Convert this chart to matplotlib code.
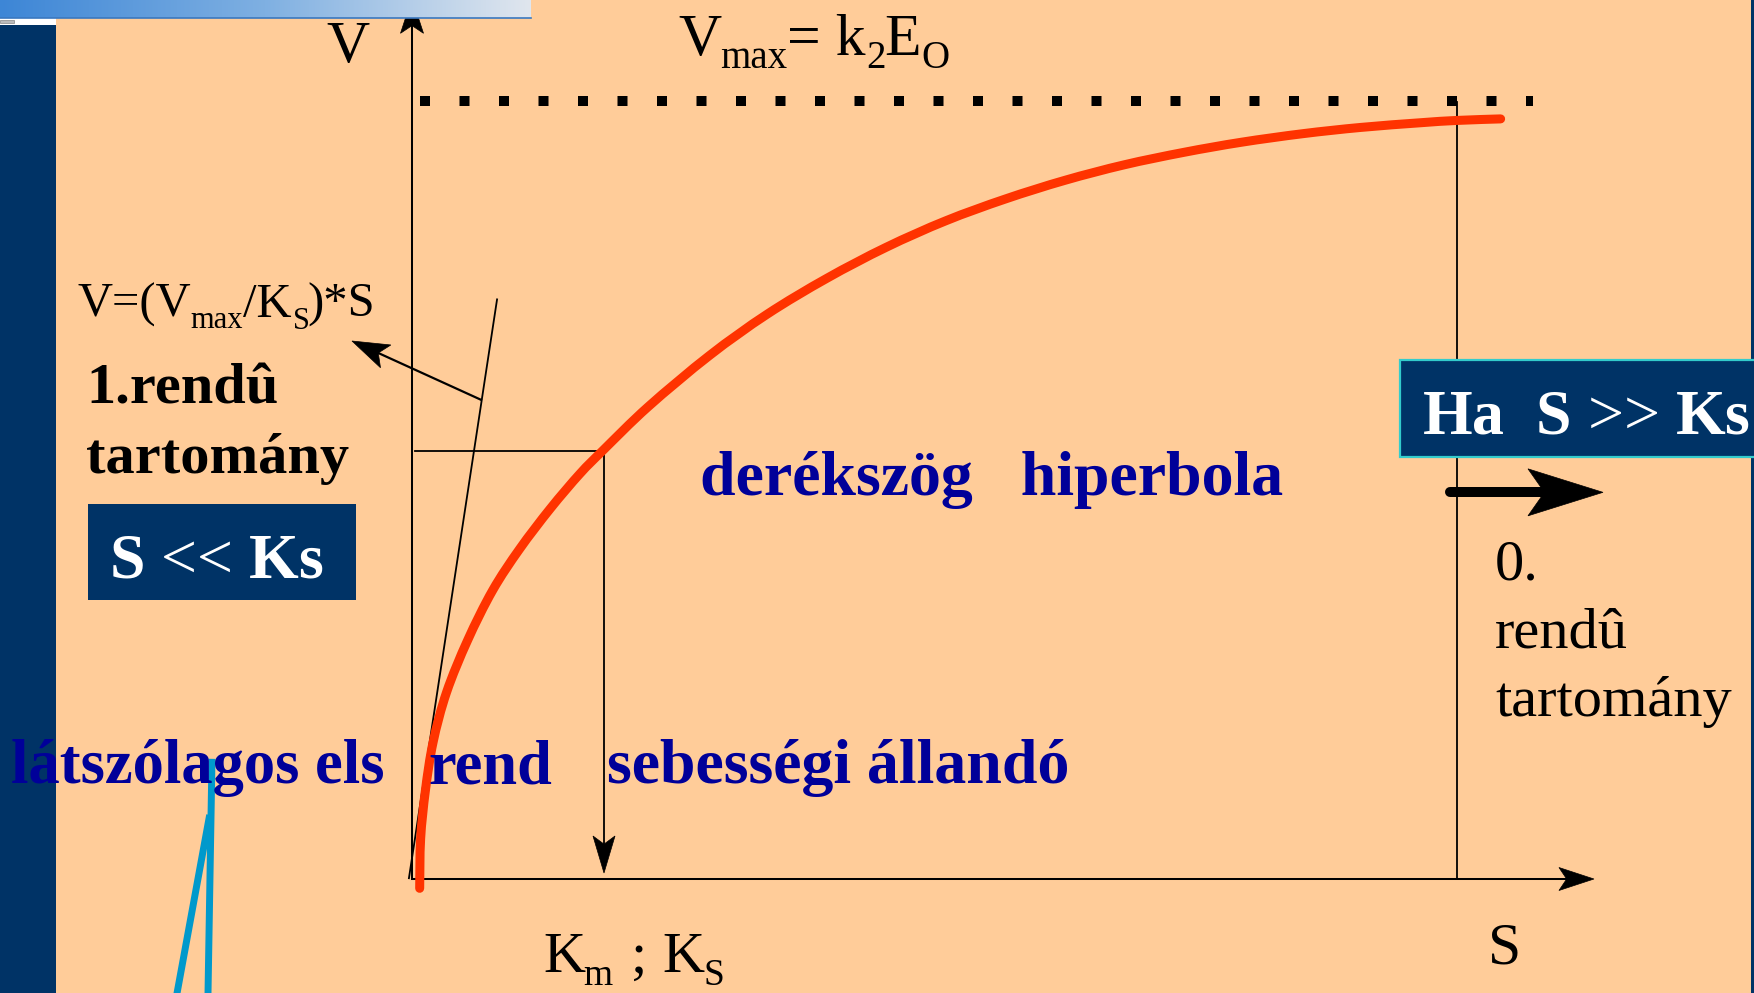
import numpy as np
import matplotlib
matplotlib.use('Agg')
import matplotlib.pyplot as plt
from matplotlib.patches import Rectangle, Polygon, PathPatch
from matplotlib.path import Path
from matplotlib.colors import LinearSegmentedColormap

plt.rcParams['font.family'] = ['Liberation Serif', 'DejaVu Serif']
plt.rcParams['mathtext.fontset'] = 'custom'
plt.rcParams['mathtext.rm'] = 'Liberation Serif'
plt.rcParams['mathtext.bf'] = 'Liberation Serif:bold'

W, H = 1754, 993
# pixel position of the origin, and pixels per Ks / per Vmax
X0, Y0 = 412, 879
SX = 192
VY = 778

PEACH = '#FFCC99'
NAVY = '#003366'
BLUE_TXT = '#000099'
RED = '#FF3300'
CYAN = '#0099CC'

# red curve (S in units of Ks, V in units of Vmax)
curve_s = [0.04, 0.045, 0.07, 0.11, 0.18, 0.29, 0.42, 0.56, 0.72, 0.875, 0.995,
           1.23, 1.55, 1.85, 2.16, 2.47, 2.78, 3.09, 3.40, 3.71, 4.02, 4.32,
           4.64, 4.94, 5.25, 5.44, 5.67]
curve_v = [-0.012, 0.052, 0.114, 0.176, 0.240, 0.307, 0.371, 0.424, 0.476, 0.521, 0.551,
           0.607, 0.673, 0.726, 0.772, 0.812, 0.846, 0.874, 0.898, 0.918, 0.934, 0.947,
           0.958, 0.966, 0.972, 0.975, 0.977]

vmax_s = [0.042, 5.84]          # dotted Vmax level
vmax_v = 1.0
km_s = 1.0                      # Km ; Ks
km_v = 0.550
right_s = 5.443                 # right vertical marker
tangent_s = [-0.016, 0.443]
tangent_v = [0.001, 0.745]
formula_arrow_s = [0.359, -0.3125]
formula_arrow_v = [0.616, 0.6915]
zero_arrow_s = [5.406, 6.203]
zero_arrow_v = 0.497
x_axis_end = 6.156
y_axis_end = 1.132
callout_a_s = [-1.042, -1.0625]
callout_a_v = [0.150, -0.147]
callout_b_s = [-1.057, -1.224]
callout_b_v = [0.078, -0.147]


def ds(px):
    return (px - X0) / SX


def dv(py):
    return (Y0 - py) / VY


fig = plt.figure(figsize=(W / 100, H / 100), dpi=100, facecolor=PEACH)
ax = fig.add_axes([0, 0, 1, 1])
ax.set_axis_off()
ax.set_xlim(ds(0), ds(W))
ax.set_ylim(dv(H), dv(0))


def arrow_head(tail, tip, length, width, notch=0.22, color='black', z=6):
    t = ax.transData
    p0 = np.array(t.transform(tail))
    p1 = np.array(t.transform(tip))
    d = (p1 - p0) / np.hypot(*(p1 - p0))
    n = np.array([-d[1], d[0]])
    base = p1 - d * length
    mid = p1 - d * length * (1 - notch)
    pts = np.array([p1, base + n * width / 2, mid, base - n * width / 2])
    pts = t.inverted().transform(pts)
    ax.add_patch(Polygon(pts, closed=True, facecolor=color, edgecolor=color,
                         lw=0.5, zorder=z))
    return t.inverted().transform(mid)


def px_text(x, y, s, size, **kw):
    fig.text(x / W, 1 - y / H, s, fontsize=size, va='baseline', ha=kw.pop('ha', 'left'), **kw)


def smooth_path(xs, ys):
    # draw the read points as one smooth stroke (Catmull-Rom as cubic Beziers)
    p = np.column_stack([xs, ys])
    ext = np.vstack([p[0], p, p[-1]])
    verts = [p[0]]
    codes = [Path.MOVETO]
    for i in range(1, len(ext) - 2):
        c1 = ext[i] + (ext[i + 1] - ext[i - 1]) / 6
        c2 = ext[i + 1] - (ext[i + 2] - ext[i]) / 6
        verts += [c1, c2, ext[i + 1]]
        codes += [Path.CURVE4] * 3
    return Path(verts, codes)


# side decorations
ax.add_patch(Rectangle((ds(0), dv(H)), ds(56) - ds(0), dv(25) - dv(H),
                       facecolor=NAVY, edgecolor='none', zorder=1))
ax.add_patch(Rectangle((ds(0), dv(25)), ds(56) - ds(0), dv(18) - dv(25),
                       facecolor='white', edgecolor='none', zorder=1))
ax.add_patch(Rectangle((ds(0), dv(23)), ds(14) - ds(0), dv(20) - dv(23),
                       facecolor='#bbbbbb', edgecolor='#888888', lw=0.5, zorder=2))
ax.add_patch(Rectangle((ds(1751), dv(H)), ds(W) - ds(1751), dv(0) - dv(H),
                       facecolor=NAVY, edgecolor='none', zorder=1))
band = LinearSegmentedColormap.from_list('band', ['#3d86d6', '#7fb0e2', '#e0e6ee'])
ax.imshow(np.linspace(0, 1, 256)[None, :], cmap=band, aspect='auto',
          extent=[ds(0), ds(531), dv(18), dv(0)], zorder=20)
ax.plot([ds(0), ds(531)], [dv(18), dv(18)], color='#3a78c0', lw=1.2, zorder=21)

# axes with arrows
lw_axis = 1.45
mid = arrow_head((0, 0), (x_axis_end, 0), 35, 23)
ax.plot([0, mid[0]], [0, 0], color='black', lw=lw_axis, zorder=5)
mid = arrow_head((0, 0), (0, y_axis_end), 35, 23)
ax.plot([0, 0], [0, mid[1]], color='black', lw=lw_axis, zorder=5)

# Vmax dotted level
ax.plot(vmax_s, [vmax_v, vmax_v], color='black', lw=7.2,
        linestyle=(0, (1, 2.95)), dash_capstyle='butt', zorder=5)

# right vertical marker
ax.plot([right_s, right_s], [0, vmax_v - 0.001], color='black', lw=1.3, zorder=5)

# tangent (first order) line
ax.plot(tangent_s, tangent_v, color='black', lw=1.3, zorder=5)

# arrow to the formula
mid = arrow_head((formula_arrow_s[0], formula_arrow_v[0]),
                 (formula_arrow_s[1], formula_arrow_v[1]), 37, 25)
ax.plot([formula_arrow_s[0], mid[0]], [formula_arrow_v[0], mid[1]],
        color='black', lw=1.6, zorder=5)

# Km guide lines
ax.plot([tangent_s[0] + 0.032, km_s], [km_v, km_v], color='black', lw=1.3, zorder=5)
mid = arrow_head((km_s, km_v), (km_s, dv(873)), 37, 22)
ax.plot([km_s, km_s], [km_v, mid[1]], color='black', lw=1.3, zorder=5)

# thick arrow (zero order)
mid = arrow_head((zero_arrow_s[0], zero_arrow_v), (zero_arrow_s[1], zero_arrow_v), 75, 47)
ax.plot([zero_arrow_s[0], mid[0]], [zero_arrow_v, zero_arrow_v], color='black',
        lw=7.2, solid_capstyle='round', zorder=6)

# hyperbola
curve = PathPatch(smooth_path(curve_s, curve_v), facecolor='none', edgecolor=RED,
                  lw=6.5, zorder=7)
curve.set_capstyle('round')
curve.set_joinstyle('round')
ax.add_patch(curve)

# boxes
ax.add_patch(Rectangle((ds(88), dv(600)), ds(356) - ds(88), dv(504) - dv(600),
                       facecolor=NAVY, edgecolor='none', zorder=8))
ax.add_patch(Rectangle((ds(1400), dv(457)), ds(1770) - ds(1400), dv(360) - dv(457),
                       facecolor=NAVY, edgecolor='#33CCCC', lw=1.6, zorder=8))

# texts
px_text(348, 62, 'V', 43, ha='center')
px_text(1505, 963, 'S', 43, ha='center')

# Vmax = k2 EO
px_text(678, 55, 'V', 43)
px_text(720, 68, 'max', 28)
px_text(787, 55, '= k', 43)
px_text(866, 68, '2', 28)
px_text(884, 55, 'E', 43)
px_text(921, 68, 'O', 28)

# V = (Vmax/KS)*S
px_text(77, 317, 'V=(V', 35)
px_text(190, 328, 'max', 22)
px_text(243, 317, '/K', 35)
px_text(293, 329, 'S', 22)
px_text(307, 317, ')*S', 35)

# Km ; KS
px_text(543, 972, 'K', 42)
px_text(583, 985, 'm', 27)
px_text(631, 972, ';', 42)
px_text(662, 972, 'K', 42)
px_text(703, 985, 'S', 27)

px_text(86, 403, '1.rendû', 42, fontweight='bold')
px_text(86, 473, 'tartomány', 42, fontweight='bold')
px_text(109, 577, r'$\mathbf{S}$ << $\mathbf{Ks}$', 46, color='white')
px_text(1422, 433, r'$\mathbf{Ha}$  $\mathbf{S}$ >> $\mathbf{Ks}$', 46, color='white')
px_text(700, 495, 'derékszög   hiperbola', 46, fontweight='bold', color=BLUE_TXT)
px_text(11, 783, 'látszólagos els', 45, fontweight='bold', color=BLUE_TXT)
px_text(428, 783, 'rend', 45, fontweight='bold', color=BLUE_TXT)
px_text(607, 783, 'sebességi állandó', 46, fontweight='bold', color=BLUE_TXT)
px_text(1495, 580, '0.', 42)
px_text(1495, 648, 'rendû', 42)
px_text(1495, 716, 'tartomány', 42)

# callout pointer
ax.plot(callout_a_s, callout_a_v, color=CYAN, lw=5, zorder=12)
ax.plot(callout_b_s, callout_b_v, color=CYAN, lw=5, zorder=12)

ax.set_xlim(ds(0), ds(W))
ax.set_ylim(dv(H), dv(0))
fig.savefig('out.png', dpi=100, facecolor=PEACH)
